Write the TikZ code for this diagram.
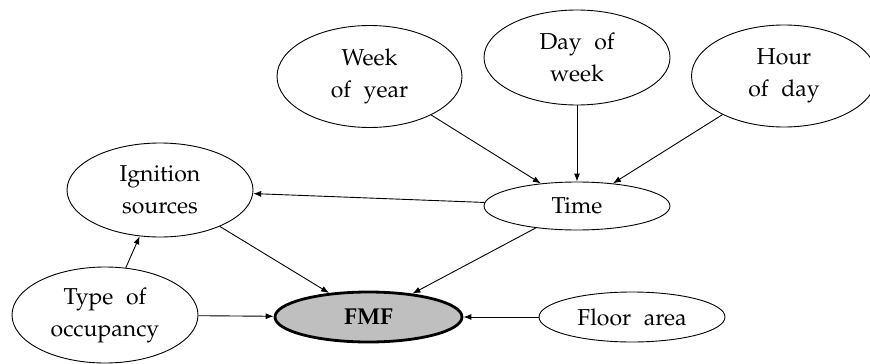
\documentclass[tikz,border=0pt]{standalone}
\usepackage[T1]{fontenc}
\usepackage{mathpazo}
\usetikzlibrary{shapes.geometric,arrows.meta}
\begin{document}
\begin{tikzpicture}[x=1pt,y=-1pt,
  lbl/.style={font=\fontsize{23}{32}\selectfont, execute at begin node={\spaceskip=0.55em\relax}},
  var/.style={lbl, ellipse, draw, line width=0.9pt, inner sep=0pt, align=center},
  two/.style={var, minimum width=185pt, minimum height=102pt},
  one/.style={var, minimum width=186pt, minimum height=49pt},
  target/.style={one, line width=2.8pt, fill=black!25, font=\fontsize{23}{32}\selectfont\bfseries},
  arr/.style={-{Latex[length=8pt,width=6pt]}, line width=0.9pt}]
\useasboundingbox (0,0) rectangle (870,364);
\node[two] (week) at (369.5,76.5) {Week\\of year};
\node[two, minimum width=186pt, minimum height=95pt] (day) at (577,57.5) {Day of\\week};
\node[two] (hour) at (784,76) {Hour\\of day};
\node[one, minimum height=48pt] (time) at (577,206) {Time};
\node[two, minimum width=186pt, minimum height=94pt] (ign) at (160,190) {Ignition\\sources};
\node[two, minimum width=186pt, minimum height=96pt] (type) at (105,315) {Type of\\occupancy};
\node[target, minimum width=187pt, minimum height=50pt] (fmf) at (368.5,317) {FMF};
\node[one, minimum height=50pt] (floor) at (632,317) {Floor area};
\draw[arr] (week) -- (time);
\draw[arr] (day) -- (time);
\draw[arr] (hour) -- (time);
\draw[arr] (time) -- (ign);
\draw[arr] (ign) -- (fmf);
\draw[arr] (time) -- (fmf);
\draw[arr] (type) -- (ign);
\draw[arr] (type) -- (fmf);
\draw[arr] (floor) -- (fmf);
\end{tikzpicture}
\end{document}
